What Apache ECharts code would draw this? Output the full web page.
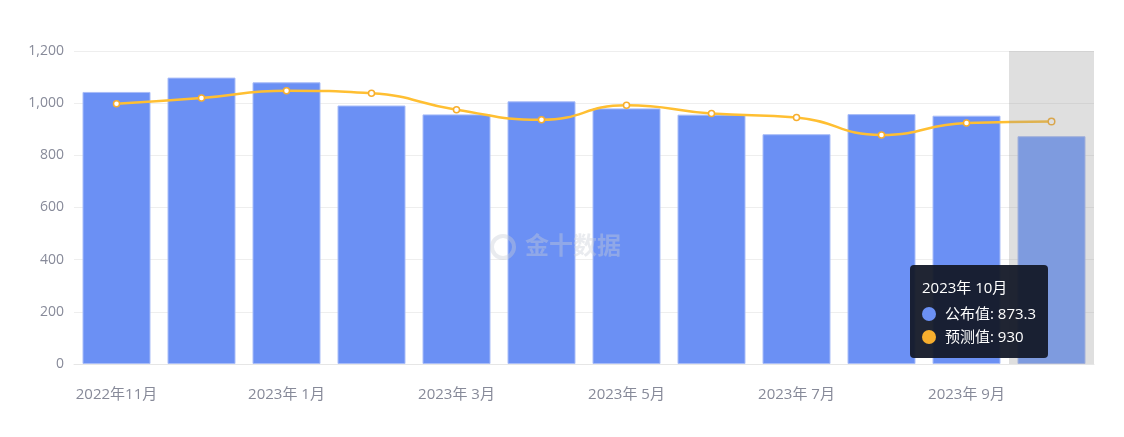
<!DOCTYPE html>
<html><head><meta charset="utf-8">
<script src="https://cdn.jsdelivr.net/npm/echarts@6/dist/echarts.min.js"></script>
<style>html,body{margin:0;padding:0;background:#fff}#c{width:1124px;height:437px}</style>
</head><body><div id="c"></div>
<script>
var categories = ['2022年11月','2022年12月','2023年 1月','2023年 2月','2023年 3月','2023年 4月','2023年 5月','2023年 6月','2023年 7月','2023年 8月','2023年 9月','2023年10月'];
var published = [1043, 1098, 1080, 991, 957, 1007, 980, 956, 881, 958, 952, 873.3];
var forecast = [998, 1020, 1048, 1038, 975, 936, 992, 960, 945, 878, 924, 930];
var yTicks = [0, 200, 400, 600, 800, 1000, 1200];
var seriesColors = ['#6b90f4', '#f7ae2e'];

var FF = '"Open Sans","Noto Sans CJK SC",sans-serif';
var chart = echarts.init(document.getElementById('c'), null, {renderer:'canvas'});
chart.setOption({
  animation: false,
  textStyle: {fontFamily: FF},
  grid: {left: 74, right: 30, top: 51, bottom: 73},
  tooltip: {
    trigger: 'axis',
    axisPointer: {type: 'shadow', shadowStyle: {color: 'rgba(150,150,150,0.3)'}},
    backgroundColor: 'rgba(20,25,40,0.95)',
    borderWidth: 0,
    padding: [11, 12, 10, 12],
    extraCssText: 'border-radius:4px;box-shadow:none;',
    textStyle: {color: '#fff', fontSize: 15},
    position: function(){ return [910, 265]; },
    formatter: function(ps){
      var title = ps[0].name.replace(/年\s?/, '年 ');
      var ff = 'font-family:Open Sans,Noto Sans CJK SC,sans-serif;font-size:15px;';
      var h = '<div style="line-height:22px;margin-bottom:4px;' + ff + '">' + title + '</div>';
      ps.forEach(function(p){
        h += '<div style="line-height:23px;' + ff + '"><span style="display:inline-block;width:14px;height:14px;border-radius:7px;background:' + seriesColors[p.seriesIndex] + ';vertical-align:-2px;margin-right:9px;"></span>' + p.seriesName + ': ' + p.value + '</div>';
      });
      return h;
    }
  },
  xAxis: {
    type: 'category',
    data: categories,
    axisLine: {lineStyle: {color: '#e6e6e6'}},
    axisTick: {show: false},
    axisLabel: {color: '#878a99', fontSize: 15, margin: 23, interval: 1}
  },
  yAxis: {
    type: 'value',
    min: yTicks[0], max: yTicks[yTicks.length-1], interval: 200,
    axisLine: {show: false},
    axisTick: {show: false},
    splitLine: {lineStyle: {color: '#eeeeee'}},
    axisLabel: {color: '#878a99', fontSize: 14, margin: 10,
      formatter: function(v){ return v.toLocaleString('en-US'); }}
  },
  graphic: [
    {type: 'circle', shape: {cx: 503, cy: 247, r: 11}, style: {fill: 'none', stroke: 'rgba(200,204,214,0.4)', lineWidth: 4}, silent: true, z: 100},
    {type: 'text', left: 525, top: 233, style: {text: '金十数据', fill: 'rgba(200,204,214,0.4)', font: 'bold 24px "Noto Sans CJK SC"'}, silent: true, z: 100}
  ],
  series: [
    {
      name: '公布值', type: 'bar', data: published, barWidth: '80%',
      itemStyle: {color: seriesColors[0], borderColor: '#a9bdf8', borderWidth: 1},
      z: 2
    },
    {
      name: '预测值', type: 'line', data: forecast, smooth: true,
      symbol: 'circle', symbolSize: 6,
      lineStyle: {color: seriesColors[1], width: 2.5},
      itemStyle: {color: '#ffffff', borderColor: seriesColors[1], borderWidth: 1.5},
      z: 3
    }
  ],
  color: seriesColors
});
chart.dispatchAction({type: 'showTip', seriesIndex: 0, dataIndex: 11});
</script></body></html>
